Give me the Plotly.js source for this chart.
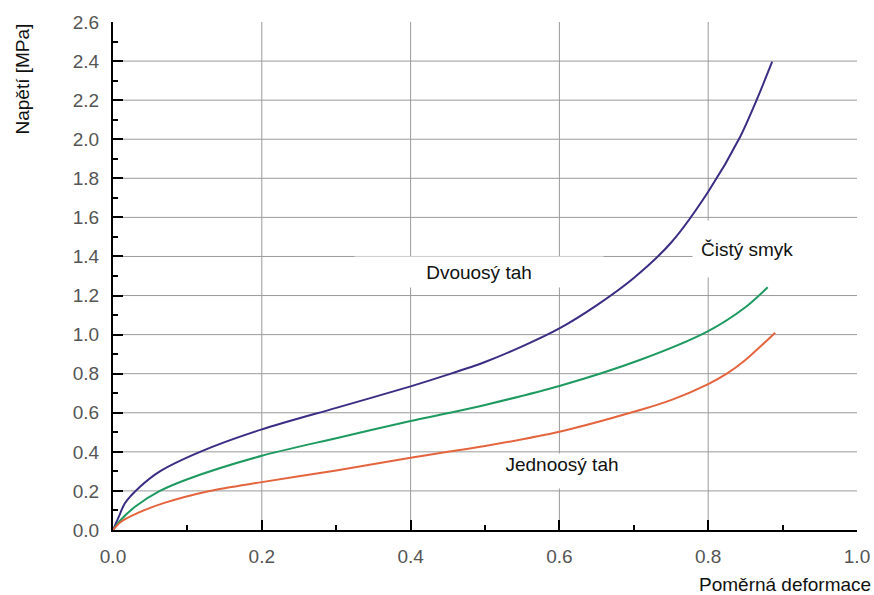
<!DOCTYPE html>
<html>
<head>
<meta charset="utf-8">
<script src="https://cdn.plot.ly/plotly-3.0.1.min.js"></script>
<style>body{margin:0;background:#fff;} #chart{width:874px;height:595px;}</style>
</head>
<body>
<div id="chart"></div>
<script>
// Top curve (purple)
const purpleX = [0, 0.008, 0.016, 0.036, 0.063, 0.117, 0.2, 0.3, 0.4, 0.45, 0.5, 0.55, 0.6, 0.65, 0.7, 0.75, 0.8, 0.843, 0.865, 0.886];
const purpleY = [0, 0.07, 0.137, 0.22, 0.30, 0.40, 0.515, 0.625, 0.735, 0.795, 0.86, 0.94, 1.032, 1.15, 1.29, 1.47, 1.731, 2.013, 2.20, 2.397];
// Middle curve (green)
const greenX = [0, 0.01, 0.03, 0.063, 0.1, 0.2, 0.3, 0.4, 0.453, 0.5, 0.6, 0.708, 0.8, 0.85, 0.88];
const greenY = [0, 0.05, 0.12, 0.2, 0.26, 0.38, 0.47, 0.558, 0.60, 0.64, 0.737, 0.87, 1.018, 1.14, 1.242];
// Bottom curve (red)
const redX = [0, 0.01, 0.032, 0.07, 0.13, 0.2, 0.3, 0.4, 0.45, 0.5, 0.6, 0.7, 0.75, 0.8, 0.825, 0.85, 0.89];
const redY = [0, 0.04, 0.085, 0.14, 0.2, 0.245, 0.305, 0.37, 0.40, 0.43, 0.503, 0.605, 0.665, 0.747, 0.80, 0.87, 1.01];

const xTicks = [0, 0.2, 0.4, 0.6, 0.8, 1.0];
const yTicks = [0, 0.2, 0.4, 0.6, 0.8, 1.0, 1.2, 1.4, 1.6, 1.8, 2.0, 2.2, 2.4, 2.6];
const xGrid = [0.2, 0.4, 0.6, 0.8];
const yGrid = [0.2, 0.4, 0.6, 0.8, 1.0, 1.2, 1.4, 1.6, 1.8, 2.0, 2.2, 2.4];

const labels = {
  biaxial: 'Dvouosý tah',
  shear: 'Čistý smyk',
  uniaxial: 'Jednoosý tah',
  xTitle: 'Poměrná deformace',
  yTitle: 'Napětí [MPa]'
};

const FONT = 'Liberation Sans, Arial, sans-serif';
const traces = [
  {x: purpleX, y: purpleY, mode: 'lines', line: {color: '#3a2d84', width: 2, shape: 'spline', smoothing: 0.8}, name: labels.shear},
  {x: greenX, y: greenY, mode: 'lines', line: {color: '#1e9a60', width: 2, shape: 'spline', smoothing: 0.8}, name: labels.biaxial},
  {x: redX, y: redY, mode: 'lines', line: {color: '#e4643e', width: 2, shape: 'spline', smoothing: 0.8}, name: labels.uniaxial}
];

const shapes = [];
xGrid.forEach(v => shapes.push({type: 'line', xref: 'x', yref: 'y', x0: v, x1: v, y0: 0, y1: 2.6, layer: 'below', line: {color: '#9a9a9a', width: 1}}));
yGrid.forEach(v => shapes.push({type: 'line', xref: 'x', yref: 'y', x0: 0, x1: 1, y0: v, y1: v, layer: 'below', line: {color: '#9a9a9a', width: 1}}));

const annotations = [
  {x: 0.492, y: 1.32, xref: 'x', yref: 'y', text: labels.biaxial, showarrow: false, bgcolor: '#ffffff', width: 248, height: 30, borderpad: 0, align: 'center', font: {family: FONT, size: 19, color: '#111'}},
  {x: 0.778, y: 1.44, xref: 'x', yref: 'y', xanchor: 'left', text: labels.shear, showarrow: false, bgcolor: '#ffffff', width: 150, height: 40, borderpad: 8, align: 'left', font: {family: FONT, size: 19, color: '#111'}},
  {x: 0.603, y: 0.30, xref: 'x', yref: 'y', text: labels.uniaxial, showarrow: false, bgcolor: '#ffffff', width: 200, height: 34, borderpad: 0, align: 'center', valign: 'top', font: {family: FONT, size: 19, color: '#111'}},
  {x: 1, y: 0, xref: 'paper', yref: 'paper', xanchor: 'right', yanchor: 'top', xshift: 16, yshift: -42, text: labels.xTitle, showarrow: false, font: {family: FONT, size: 19, color: '#111'}},
  {x: 0, y: 1, xref: 'paper', yref: 'paper', xanchor: 'center', yanchor: 'top', xshift: -91, yshift: 0, textangle: -90, text: labels.yTitle, showarrow: false, font: {family: FONT, size: 19, color: '#111'}}
];

const layout = {
  width: 874, height: 595,
  margin: {l: 113, r: 17, t: 22, b: 65},
  paper_bgcolor: '#ffffff', plot_bgcolor: '#ffffff',
  showlegend: false,
  font: {family: FONT, size: 19, color: '#555'},
  xaxis: {
    range: [0, 1], tickvals: xTicks, ticktext: xTicks.map(v => v.toFixed(1)),
    showgrid: false, zeroline: false, showline: true, linecolor: '#000', linewidth: 2,
    ticks: 'inside', ticklen: 10, tickwidth: 2, tickcolor: '#000', ticklabelstandoff: 8,
    minor: {dtick: 0.1, tick0: 0, ticks: 'inside', ticklen: 5, tickwidth: 2, tickcolor: '#000', showgrid: false},
    tickfont: {family: FONT, size: 19, color: '#555'}, fixedrange: true
  },
  yaxis: {
    range: [0, 2.6], tickvals: yTicks, ticktext: yTicks.map(v => v.toFixed(1)),
    showgrid: false, zeroline: false, showline: true, linecolor: '#000', linewidth: 2,
    ticks: 'inside', ticklen: 10, tickwidth: 2, tickcolor: '#000', ticklabelstandoff: 8,
    minor: {dtick: 0.1, tick0: 0, ticks: 'inside', ticklen: 5, tickwidth: 2, tickcolor: '#000', showgrid: false},
    tickfont: {family: FONT, size: 19, color: '#555'}, fixedrange: true
  },
  shapes: shapes,
  annotations: annotations
};

Plotly.newPlot('chart', traces, layout, {staticPlot: true, displayModeBar: false});
</script>
</body>
</html>
